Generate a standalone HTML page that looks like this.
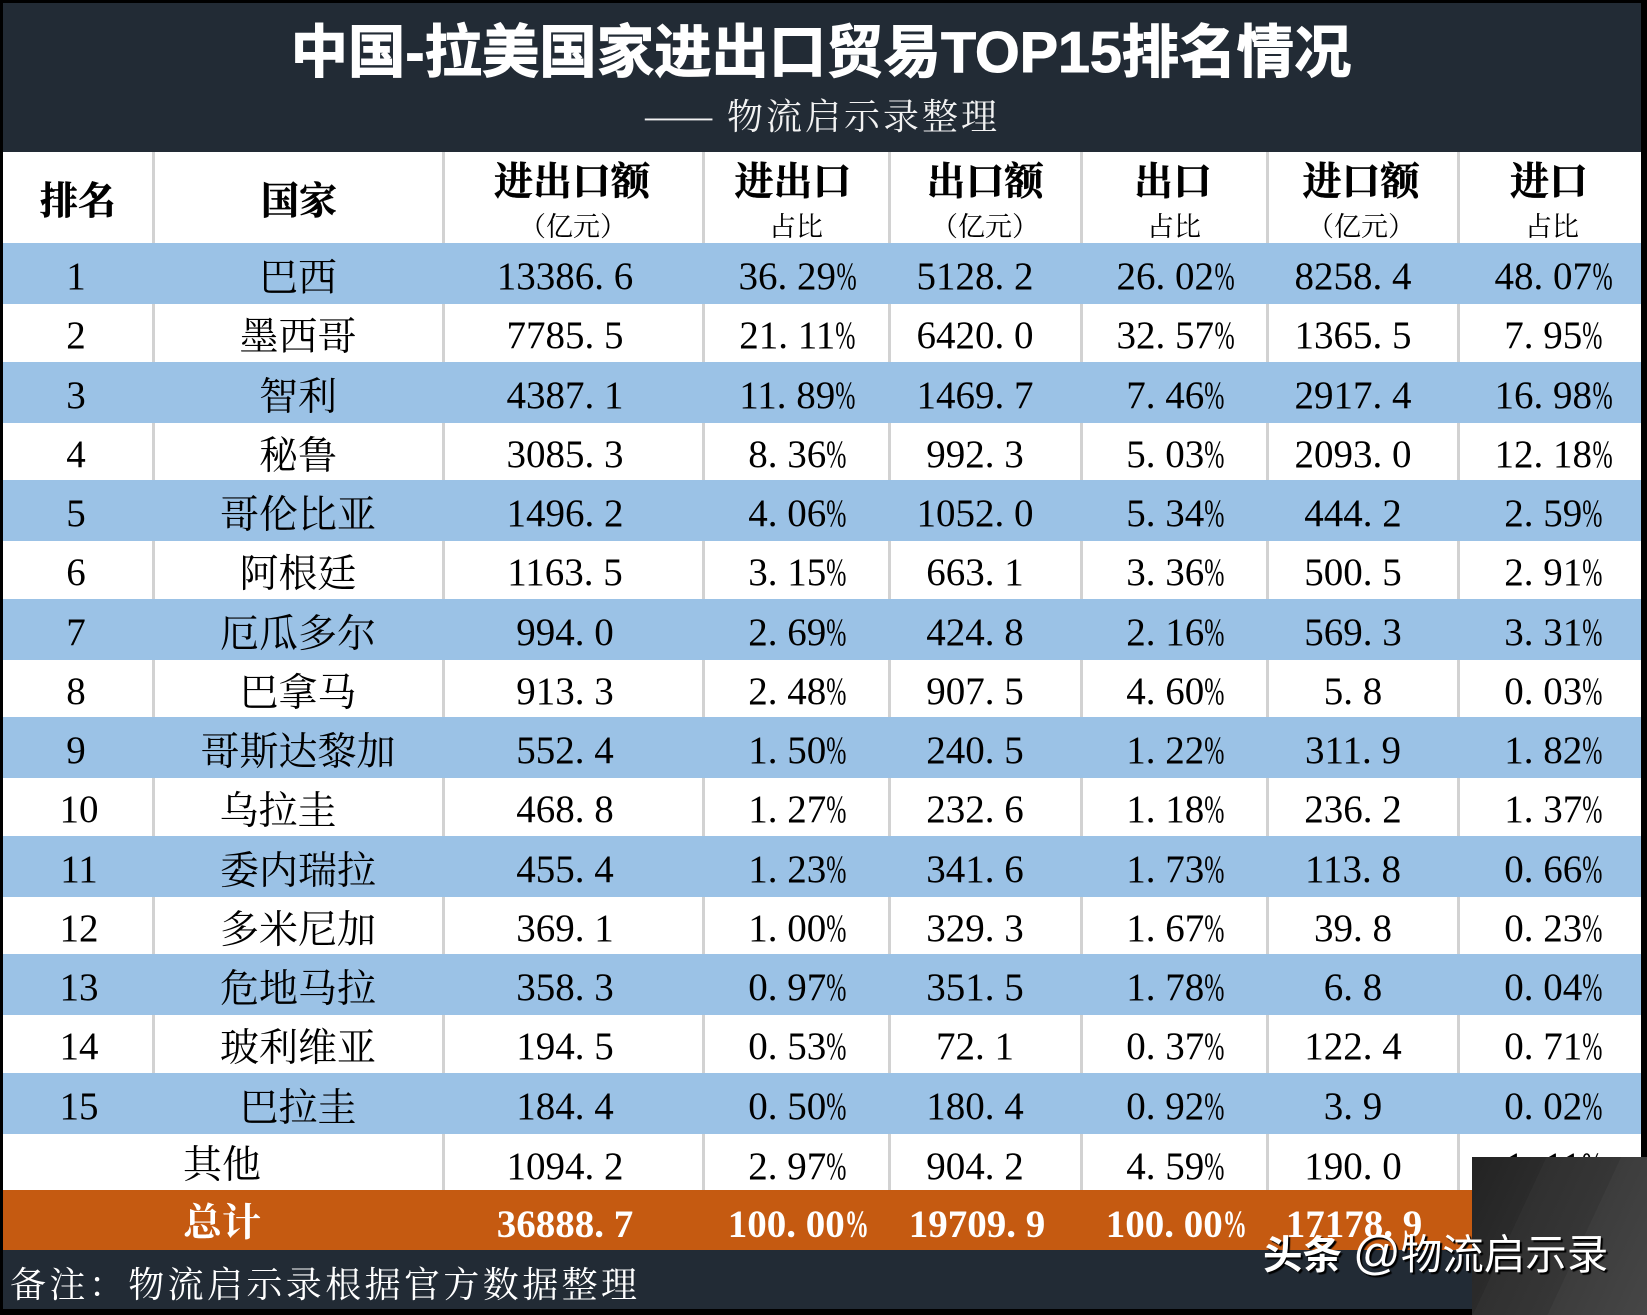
<!DOCTYPE html>
<html lang="zh">
<head>
<meta charset="utf-8">
<title>中国-拉美国家进出口贸易TOP15排名情况</title>
<style>
html,body{margin:0;padding:0;background:#000}
#page{position:relative;width:1647px;height:1315px;overflow:hidden;background:#000;font-family:"Liberation Serif","Noto Serif CJK SC",serif;font-size:39px;color:#000}
.band{position:absolute;left:3px;width:1638px;background:#222b35}
.r{position:absolute;left:3px;width:1638px;height:61px}
.b{background:#9bc2e6;line-height:67.5px}
.w{line-height:64px;background-color:#fff;background-image:linear-gradient(#d2d2d2,#d2d2d2),linear-gradient(#d2d2d2,#d2d2d2),linear-gradient(#d2d2d2,#d2d2d2),linear-gradient(#d2d2d2,#d2d2d2),linear-gradient(#d2d2d2,#d2d2d2),linear-gradient(#d2d2d2,#d2d2d2),linear-gradient(#d2d2d2,#d2d2d2);background-repeat:no-repeat;background-size:3px 100%;background-position:149px 0,439px 0,699px 0,885px 0,1077px 0,1263px 0,1454px 0}
.o{background-position:-9px 0,439px 0,699px 0,885px 0,1077px 0,1263px 0,1454px 0}
.t{background:#c55a11;color:#fff;font-weight:bold}
.c{position:absolute;top:0;font-style:normal;white-space:nowrap;transform:translateX(-50%)}
.c1{left:73px}.c1b{left:76px}.c2{left:295px;top:2px}.c3{left:562px}.c4{left:794px}.c5{left:972px}.c6{left:1172px}.c7{left:1350px}.c8{left:1550px}
u{text-decoration:none;padding-right:.25em}
s{text-decoration:none;display:inline-block;width:.5em;transform:scaleX(.62);transform-origin:left center;text-align:left}
.h{font-weight:bold;font-size:38px;line-height:40px;-webkit-text-stroke:.5px #000}
.sub{font-size:27px;line-height:30px}
#title{position:absolute;left:821px;top:18px;transform:translateX(-50%);font:bold 57.4px/70px "Liberation Sans","Noto Sans CJK SC",sans-serif;color:#fff;white-space:nowrap;-webkit-text-stroke:1px #fff}
#subtitle{position:absolute;left:643px;top:92px;font:36px/46px "Noto Serif CJK SC",serif;letter-spacing:3px;color:#f2f2f2;white-space:nowrap}
#subtitle span{display:inline-block;width:84px;letter-spacing:0;transform:scaleX(1.17);transform-origin:left center}
#note{position:absolute;left:10px;top:1260px;font:36px/46px "Noto Serif CJK SC",serif;letter-spacing:3.4px;color:#fff;white-space:nowrap}
#wm-box{position:absolute;left:1472px;top:1157px;width:175px;height:158px;background:linear-gradient(115deg,#232323 0%,#2b2b2b 30%,#303030 30%,#363636 60%,#3c3c3c 60%,#464646 100%)}
#wm{position:absolute;left:1263px;top:1227px;font:41.5px/52px "Liberation Sans","Noto Sans CJK SC",sans-serif;color:#fff;white-space:nowrap;text-shadow:2px 2px 1px #000}
#wm b{font-weight:bold;margin-right:11px;font-size:39.5px}
#wm em{font-style:normal;font-size:47px}
</style>
</head>
<body>
<div id="page">
<div class="band" style="top:3px;height:149px"></div>
<div id="title">中国-拉美国家进出口贸易TOP15排名情况</div>
<div id="subtitle"><span>——</span>物流启示录整理</div>

<div class="r w" style="top:152px;height:91px">
<i class="c h c1" style="left:75px;top:30px">排名</i>
<i class="c h c2" style="left:296px;top:30px">国家</i>
<i class="c h" style="left:569px;top:11px;font-size:39px">进出口额</i>
<i class="c sub" style="left:570px;top:60px">（亿元）</i>
<i class="c h" style="left:790px;top:11px;font-size:39px">进出口</i>
<i class="c sub" style="left:793px;top:60px">占比</i>
<i class="c h" style="left:982px;top:11px;font-size:39px">出口额</i>
<i class="c sub" style="left:982px;top:60px">（亿元）</i>
<i class="c h" style="left:1170px;top:11px;font-size:39px">出口</i>
<i class="c sub" style="left:1171px;top:60px">占比</i>
<i class="c h" style="left:1358px;top:11px;font-size:39px">进口额</i>
<i class="c sub" style="left:1358px;top:60px">（亿元）</i>
<i class="c h" style="left:1546px;top:11px;font-size:39px">进口</i>
<i class="c sub" style="left:1549px;top:60px">占比</i>
</div>

<div class="r b" style="top:243px">
<i class="c c1">1</i><i class="c c2">巴西</i><i class="c c3">13386<u>.</u>6</i><i class="c c4">36<u>.</u>29<s>%</s></i><i class="c c5">5128<u>.</u>2</i><i class="c c6">26<u>.</u>02<s>%</s></i><i class="c c7">8258<u>.</u>4</i><i class="c c8">48<u>.</u>07<s>%</s></i>
</div>
<div class="r w" style="top:304px;height:58px">
<i class="c c1">2</i><i class="c c2">墨西哥</i><i class="c c3">7785<u>.</u>5</i><i class="c c4">21<u>.</u>11<s>%</s></i><i class="c c5">6420<u>.</u>0</i><i class="c c6">32<u>.</u>57<s>%</s></i><i class="c c7">1365<u>.</u>5</i><i class="c c8">7<u>.</u>95<s>%</s></i>
</div>
<div class="r b" style="top:362px">
<i class="c c1">3</i><i class="c c2">智利</i><i class="c c3">4387<u>.</u>1</i><i class="c c4">11<u>.</u>89<s>%</s></i><i class="c c5">1469<u>.</u>7</i><i class="c c6">7<u>.</u>46<s>%</s></i><i class="c c7">2917<u>.</u>4</i><i class="c c8">16<u>.</u>98<s>%</s></i>
</div>
<div class="r w" style="top:423px;height:57px">
<i class="c c1">4</i><i class="c c2">秘鲁</i><i class="c c3">3085<u>.</u>3</i><i class="c c4">8<u>.</u>36<s>%</s></i><i class="c c5">992<u>.</u>3</i><i class="c c6">5<u>.</u>03<s>%</s></i><i class="c c7">2093<u>.</u>0</i><i class="c c8">12<u>.</u>18<s>%</s></i>
</div>
<div class="r b" style="top:480px">
<i class="c c1">5</i><i class="c c2">哥伦比亚</i><i class="c c3">1496<u>.</u>2</i><i class="c c4">4<u>.</u>06<s>%</s></i><i class="c c5">1052<u>.</u>0</i><i class="c c6">5<u>.</u>34<s>%</s></i><i class="c c7">444<u>.</u>2</i><i class="c c8">2<u>.</u>59<s>%</s></i>
</div>
<div class="r w" style="top:541px;height:58px">
<i class="c c1">6</i><i class="c c2">阿根廷</i><i class="c c3">1163<u>.</u>5</i><i class="c c4">3<u>.</u>15<s>%</s></i><i class="c c5">663<u>.</u>1</i><i class="c c6">3<u>.</u>36<s>%</s></i><i class="c c7">500<u>.</u>5</i><i class="c c8">2<u>.</u>91<s>%</s></i>
</div>
<div class="r b" style="top:599px">
<i class="c c1">7</i><i class="c c2">厄瓜多尔</i><i class="c c3">994<u>.</u>0</i><i class="c c4">2<u>.</u>69<s>%</s></i><i class="c c5">424<u>.</u>8</i><i class="c c6">2<u>.</u>16<s>%</s></i><i class="c c7">569<u>.</u>3</i><i class="c c8">3<u>.</u>31<s>%</s></i>
</div>
<div class="r w" style="top:660px;height:57px">
<i class="c c1">8</i><i class="c c2">巴拿马</i><i class="c c3">913<u>.</u>3</i><i class="c c4">2<u>.</u>48<s>%</s></i><i class="c c5">907<u>.</u>5</i><i class="c c6">4<u>.</u>60<s>%</s></i><i class="c c7">5<u>.</u>8</i><i class="c c8">0<u>.</u>03<s>%</s></i>
</div>
<div class="r b" style="top:717px">
<i class="c c1">9</i><i class="c c2">哥斯达黎加</i><i class="c c3">552<u>.</u>4</i><i class="c c4">1<u>.</u>50<s>%</s></i><i class="c c5">240<u>.</u>5</i><i class="c c6">1<u>.</u>22<s>%</s></i><i class="c c7">311<u>.</u>9</i><i class="c c8">1<u>.</u>82<s>%</s></i>
</div>
<div class="r w" style="top:778px;height:58px">
<i class="c c1b">10</i><i class="c c2" style="left:275px">乌拉圭</i><i class="c c3">468<u>.</u>8</i><i class="c c4">1<u>.</u>27<s>%</s></i><i class="c c5">232<u>.</u>6</i><i class="c c6">1<u>.</u>18<s>%</s></i><i class="c c7">236<u>.</u>2</i><i class="c c8">1<u>.</u>37<s>%</s></i>
</div>
<div class="r b" style="top:836px">
<i class="c c1b">11</i><i class="c c2">委内瑞拉</i><i class="c c3">455<u>.</u>4</i><i class="c c4">1<u>.</u>23<s>%</s></i><i class="c c5">341<u>.</u>6</i><i class="c c6">1<u>.</u>73<s>%</s></i><i class="c c7">113<u>.</u>8</i><i class="c c8">0<u>.</u>66<s>%</s></i>
</div>
<div class="r w" style="top:897px;height:57px">
<i class="c c1b">12</i><i class="c c2">多米尼加</i><i class="c c3">369<u>.</u>1</i><i class="c c4">1<u>.</u>00<s>%</s></i><i class="c c5">329<u>.</u>3</i><i class="c c6">1<u>.</u>67<s>%</s></i><i class="c c7">39<u>.</u>8</i><i class="c c8">0<u>.</u>23<s>%</s></i>
</div>
<div class="r b" style="top:954px">
<i class="c c1b">13</i><i class="c c2">危地马拉</i><i class="c c3">358<u>.</u>3</i><i class="c c4">0<u>.</u>97<s>%</s></i><i class="c c5">351<u>.</u>5</i><i class="c c6">1<u>.</u>78<s>%</s></i><i class="c c7">6<u>.</u>8</i><i class="c c8">0<u>.</u>04<s>%</s></i>
</div>
<div class="r w" style="top:1015px;height:58px">
<i class="c c1b">14</i><i class="c c2">玻利维亚</i><i class="c c3">194<u>.</u>5</i><i class="c c4">0<u>.</u>53<s>%</s></i><i class="c c5">72<u>.</u>1</i><i class="c c6">0<u>.</u>37<s>%</s></i><i class="c c7">122<u>.</u>4</i><i class="c c8">0<u>.</u>71<s>%</s></i>
</div>
<div class="r b" style="top:1073px">
<i class="c c1b">15</i><i class="c c2">巴拉圭</i><i class="c c3">184<u>.</u>4</i><i class="c c4">0<u>.</u>50<s>%</s></i><i class="c c5">180<u>.</u>4</i><i class="c c6">0<u>.</u>92<s>%</s></i><i class="c c7">3<u>.</u>9</i><i class="c c8">0<u>.</u>02<s>%</s></i>
</div>
<div class="r w o" style="top:1134px;height:56px;line-height:66px">
<i class="c" style="left:219px;top:4px;line-height:56px">其他</i><i class="c c3">1094<u>.</u>2</i><i class="c c4">2<u>.</u>97<s>%</s></i><i class="c c5">904<u>.</u>2</i><i class="c c6">4<u>.</u>59<s>%</s></i><i class="c c7">190<u>.</u>0</i><i class="c c8">1<u>.</u>11<s>%</s></i>
</div>
<div class="r t" style="top:1190px;height:60px;line-height:69px">
<i class="c" style="left:219px;top:3px;line-height:62px">总计</i><i class="c c3">36888<u>.</u>7</i><i class="c c4" style="left:793px">100<u>.</u>00<s>%</s></i><i class="c c5" style="left:974px">19709<u>.</u>9</i><i class="c c6" style="left:1171px">100<u>.</u>00<s>%</s></i><i class="c c7" style="left:1351px">17178<u>.</u>9</i><i class="c c8">100<u>.</u>00<s>%</s></i>
</div>

<div class="band" style="top:1250px;height:59px"></div>
<div id="note">备注：物流启示录根据官方数据整理</div>
<div id="wm-box"></div>
<div id="wm"><b>头条</b><em>@</em>物流启示录</div>
</div>
</body>
</html>
